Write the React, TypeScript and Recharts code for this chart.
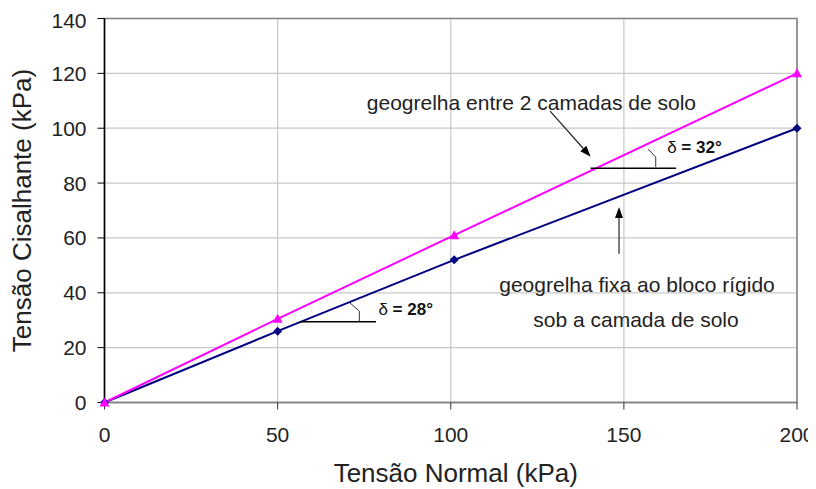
import {
  LineChart,
  Line,
  XAxis,
  YAxis,
  CartesianGrid,
  ReferenceLine,
  ReferenceDot,
  ReferenceArea,
} from 'recharts';

const normalStress = [0, 50, 101, 200];
const shearRigidBlock = [0, 26, 52, 100];
const shearBetweenLayers = [0, 30.5, 61, 120];

const xTicks = [0, 50, 100, 150, 200];
const yTicks = [0, 20, 40, 60, 80, 100, 120, 140];

const FONT = '"Liberation Sans", Arial, Helvetica, sans-serif';

const chartData = normalStress.map((x, i) => ({
  x,
  rigido: shearRigidBlock[i],
  camadas: shearBetweenLayers[i],
}));

// Marcadores
const Triangle = (props: any) => {
  const { cx, cy } = props;
  if (cx == null || cy == null) return null;
  return (
    <polygon
      points={`${cx},${cy - 5} ${cx - 5},${cy + 4} ${cx + 5},${cy + 4}`}
      fill="#FF00FF"
    />
  );
};

const Diamond = (props: any) => {
  const { cx, cy } = props;
  if (cx == null || cy == null) return null;
  return (
    <polygon
      points={`${cx},${cy - 4.5} ${cx + 4.5},${cy} ${cx},${cy + 4.5} ${cx - 4.5},${cy}`}
      fill="#000080"
    />
  );
};

// Seta com ponta no segundo ponto
const Arrow = (props: any) => {
  const { x1, y1, x2, y2 } = props;
  const a = Math.atan2(y2 - y1, x2 - x1);
  const len = 11;
  const w = 4;
  const bx = x2 - len * Math.cos(a);
  const by = y2 - len * Math.sin(a);
  const px = -Math.sin(a) * w;
  const py = Math.cos(a) * w;
  return (
    <g>
      <line x1={x1} y1={y1} x2={bx} y2={by} stroke="#222" strokeWidth={1.2} />
      <polygon points={`${x2},${y2} ${bx + px},${by + py} ${bx - px},${by - py}`} fill="#000" />
    </g>
  );
};

const Segment = (props: any) => {
  const { x1, y1, x2, y2 } = props;
  return <line x1={x1} y1={y1} x2={x2} y2={y2} stroke="#000" strokeWidth={1.5} />;
};

// Pequeno arco do ângulo
const AngleMark = (props: any) => {
  const { x1, y1, x2, y2 } = props;
  return (
    <path
      d={`M${x1},${y1} L${x2},${y1 + (y2 - y1) * 0.45} L${x2},${y2}`}
      stroke="#333"
      strokeWidth={1}
      fill="none"
    />
  );
};

const makeText = (text: string, anchor: 'start' | 'middle' = 'middle') => (props: any) => (
  <text
    x={props.cx}
    y={props.cy}
    textAnchor={anchor}
    fontFamily={FONT}
    fontSize={21}
    fill="#222"
  >
    {text}
  </text>
);

const makeDelta = (value: string) => (props: any) => (
  <text x={props.cx} y={props.cy} fontFamily={FONT} fontSize={17} fill="#111">
    <tspan>δ</tspan>
    <tspan fontWeight="bold"> = {value}</tspan>
  </text>
);

const App = () => {
  return (
    <div style={{ width: 808, height: 481, background: '#fff' }}>
      <LineChart
        width={808}
        height={481}
        data={chartData}
        margin={{ top: 10.5, right: 19, bottom: 0, left: 0 }}
      >
        <CartesianGrid stroke="#c8c8c8" strokeWidth={1.2} />
        <ReferenceArea
          x1={0}
          x2={200}
          y1={0}
          y2={140}
          fill="none"
          fillOpacity={0}
          stroke="#808080"
          strokeWidth={1.5}
        />
        <XAxis
          dataKey="x"
          type="number"
          domain={[0, 200]}
          ticks={xTicks}
          height={86.5}
          tickSize={7}
          tickMargin={18}
          tick={{ fill: '#222', fontSize: 21, fontFamily: FONT }}
          axisLine={{ stroke: '#808080', strokeWidth: 1.5 }}
          tickLine={{ stroke: '#333' }}
          label={{
            value: 'Tensão Normal (kPa)',
            position: 'insideBottom',
            offset: 7,
            dx: 5,
            style: { fontSize: 26, fontFamily: FONT, fill: '#222' },
          }}
        />
        <YAxis
          type="number"
          domain={[0, 140]}
          ticks={yTicks}
          width={96.5}
          tickSize={7}
          tickMargin={11}
          tick={{ fill: '#222', fontSize: 21, fontFamily: FONT }}
          axisLine={{ stroke: '#000', strokeWidth: 1.5 }}
          tickLine={{ stroke: '#000' }}
          label={{
            value: 'Tensão Cisalhante (kPa)',
            angle: -90,
            position: 'insideLeft',
            offset: 14,
            style: { fontSize: 26, fontFamily: FONT, fill: '#222', textAnchor: 'middle' },
          }}
        />
        <Line
          dataKey="rigido"
          stroke="#000080"
          strokeWidth={2}
          dot={<Diamond />}
          activeDot={false}
          isAnimationActive={false}
        />
        <Line
          dataKey="camadas"
          stroke="#FF00FF"
          strokeWidth={2}
          dot={<Triangle />}
          activeDot={false}
          isAnimationActive={false}
        />

        {/* anotação: geogrelha entre 2 camadas de solo */}
        <ReferenceDot x={123.3} y={106.7} r={0} shape={makeText('geogrelha entre 2 camadas de solo')} />
        <ReferenceLine segment={[{ x: 128.7, y: 106.2 }, { x: 140.4, y: 89.6 }]} shape={Arrow} />
        <ReferenceLine segment={[{ x: 140.4, y: 85.4 }, { x: 165.1, y: 85.4 }]} shape={Segment} />
        <ReferenceLine segment={[{ x: 157.0, y: 92.4 }, { x: 159.2, y: 85.9 }]} shape={AngleMark} />
        <ReferenceDot x={162.5} y={90.8} r={0} shape={makeDelta('32°')} />

        {/* anotação: geogrelha fixa ao bloco rígido */}
        <ReferenceDot x={153.8} y={40.4} r={0} shape={makeText('geogrelha fixa ao bloco rígido')} />
        <ReferenceDot x={153.5} y={27.6} r={0} shape={makeText('sob a camada de solo')} />
        <ReferenceLine segment={[{ x: 148.6, y: 54.2 }, { x: 148.6, y: 71.3 }]} shape={Arrow} />
        <ReferenceLine segment={[{ x: 56.3, y: 29.4 }, { x: 78.4, y: 29.4 }]} shape={Segment} />
        <ReferenceLine segment={[{ x: 70.9, y: 36.3 }, { x: 73.6, y: 29.7 }]} shape={AngleMark} />
        <ReferenceDot x={79.1} y={31.9} r={0} shape={makeDelta('28°')} />
      </LineChart>
    </div>
  );
};

export default App;
